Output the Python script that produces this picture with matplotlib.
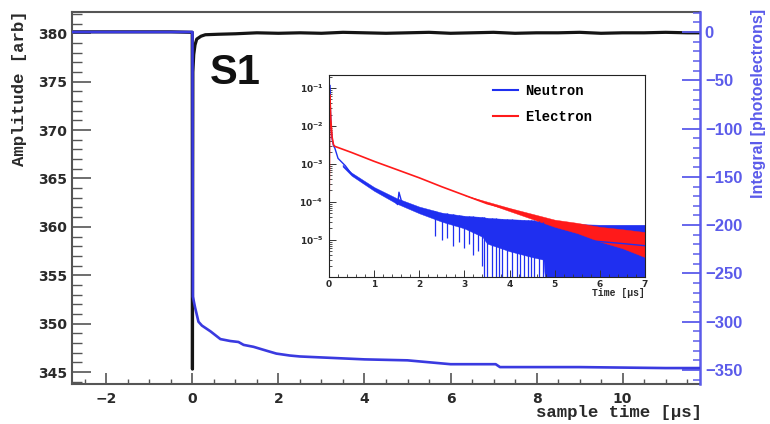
import matplotlib
matplotlib.use('Agg')
import matplotlib.pyplot as plt
import numpy as np
from matplotlib.ticker import MultipleLocator, NullFormatter, FuncFormatter, LogLocator
from matplotlib.font_manager import FontProperties
from matplotlib.lines import Line2D

plt.rcParams['font.weight'] = 'bold'

# ---------------- main panel data ----------------
amp_time = [-2.8, -1.5, -0.5, -0.005, 0.0, 0.01, 0.03, 0.06, 0.1, 0.2, 0.3, 0.6, 1.0, 1.5,
            2.0, 2.5, 3.0, 3.5, 4.0, 4.5, 5.0, 5.5, 6.0, 6.5, 7.0, 7.5, 8.0, 8.5, 9.0, 9.5,
            10.0, 10.5, 11.0, 11.5, 11.8]
amp_val = [380.15, 380.15, 380.15, 380.1, 345.3, 376.0, 377.8, 378.8, 379.4, 379.7, 379.85,
           379.9, 379.95, 380.05, 380.0, 380.05, 380.0, 380.1, 380.05, 380.0, 380.05, 380.1,
           380.0, 380.05, 380.1, 380.0, 380.05, 380.05, 380.1, 380.0, 380.05, 380.05, 380.1,
           380.05, 380.05]

int_time = [-2.8, -0.005, 0.0, 0.01, 0.06, 0.14, 0.22, 0.42, 0.65, 0.88, 1.07, 1.19, 1.42,
            1.57, 1.72, 1.95, 2.26, 2.5, 3.0, 4.0, 5.0, 6.0, 7.05, 7.15, 9.0, 11.0, 11.8]
int_pe = [0, 0, 0, -274, -285, -300, -304, -310, -318, -320, -321, -324, -326, -328, -330,
          -333, -335, -336, -337, -339, -340, -344, -344, -347, -347, -348, -348]

x_ticks_main = [-2, 0, 2, 4, 6, 8, 10]
amp_ticks = [345, 350, 355, 360, 365, 370, 375, 380]
pe_ticks = [0, -50, -100, -150, -200, -250, -300, -350]

# ---------------- inset data ----------------
neutron_time = [0.0, 0.015, 0.03, 0.05, 0.07, 0.1, 0.13, 0.2, 0.36, 0.5, 0.75, 1.0, 1.2,
                1.39, 1.47, 1.52, 1.55, 1.6, 1.65, 2.0, 2.5, 3.0, 3.5, 4.0, 4.5, 5.0, 5.5,
                6.0, 6.5, 7.0]
neutron_val = [5e-5, 1.2e-1, 3e-2, 8e-3, 4.5e-3, 3.0e-3, 2.6e-3, 1.4e-3, 9e-4, 5.4e-4,
               3.3e-4, 2.2e-4, 1.6e-4, 1.25e-4, 1.0e-4, 8.5e-5, 1.8e-4, 1.1e-4, 8.5e-5,
               6e-5, 4e-5, 3e-5, 2.2e-5, 1.7e-5, 1.4e-5, 1.2e-5, 1.0e-5, 9e-6, 8e-6, 7e-6]

nband_time = [0.3, 0.5, 1.0, 1.5, 2.0, 2.5, 3.0, 3.4, 3.5, 4.0, 4.5, 4.75, 4.8, 5.0, 5.5,
              6.0, 6.5, 7.0]
nband_hi = [9.5e-4, 5.9e-4, 2.45e-4, 1.25e-4, 7.5e-5, 5.2e-5, 4.3e-5, 4e-5, 3.8e-5, 3.5e-5,
            3.3e-5, 3e-5, 3e-5, 2.8e-5, 2.6e-5, 2.5e-5, 2.5e-5, 2.5e-5]
nband_lo = [8.5e-4, 4.9e-4, 1.95e-4, 9e-5, 5e-5, 3e-5, 2e-5, 1.2e-5, 8e-6, 5e-6,
            3.5e-6, 3e-6, 5e-7, 5e-7, 5e-7, 5e-7, 5e-7, 5e-7]

dip_time = [2.35, 2.5, 2.62, 2.75, 2.88, 3.0, 3.1, 3.2, 3.3, 3.38, 3.43, 3.5, 3.61, 3.69,
            3.76, 3.84, 3.94, 4.06, 4.17, 4.23, 4.33, 4.4, 4.47, 4.54, 4.65, 4.73]
dip_floor = [1.3e-5, 1.0e-5, 1.1e-5, 7e-6, 9e-6, 6e-6, 8e-6, 4e-6, 5e-6, 2e-6, 5e-7, 5e-7,
             5e-7, 5e-7, 5e-7, 5e-7, 5e-7, 5e-7, 5e-7, 5e-7, 5e-7, 5e-7, 5e-7, 5e-7, 5e-7,
             5e-7]

electron_time = [0.0, 0.02, 0.04, 0.07, 0.1, 0.13, 0.5, 1.0, 1.5, 2.0, 2.5, 3.0, 3.5, 4.0,
                 4.5, 5.0, 5.5, 6.0, 6.5, 7.0]
electron_val = [3e-5, 6.6e-2, 1.5e-2, 5e-3, 3.2e-3, 2.9e-3, 2e-3, 1.17e-3, 7.1e-4, 4.3e-4,
                2.5e-4, 1.5e-4, 9e-5, 6.3e-5, 4.2e-5, 2.8e-5, 2.1e-5, 1.5e-5, 1.1e-5, 8e-6]

eband_time = [3.0, 4.0, 5.0, 5.5, 6.0, 6.5, 7.0]
eband_hi = [1.5e-4, 6.9e-5, 3.4e-5, 2.8e-5, 2.2e-5, 1.9e-5, 1.6e-5]
eband_lo = [1.5e-4, 5.7e-5, 2.2e-5, 1.5e-5, 9e-6, 6e-6, 3.5e-6]

inset_xticks = [0, 1, 2, 3, 4, 5, 6, 7]

# ---------------- styles ----------------
W, H = 770, 424
GRAY = '#555555'
TXT = '#2a2a2a'
BLUE_MAIN = '#3a3ae0'
BLUE_AX = '#5b5bea'
BLUE_IN = '#1f2ff0'
RED_IN = '#ff1a1a'

fig = plt.figure(figsize=(W / 100, H / 100), dpi=100)
ax = fig.add_axes([72 / W, 1 - 384 / H, (700 - 72) / W, (384 - 12) / H])
ax.set_xlim(-2.8, 11.8)
ax.set_ylim(343.76, 382.2)
ax2 = ax.twinx()
ax2.set_ylim(-364.5, 20.7)

ax.plot(amp_time, amp_val, color='#151515', lw=2.3, zorder=2)
ax2.plot(int_time, int_pe, color=BLUE_MAIN, lw=1.9, zorder=3)

for s in ['left', 'bottom', 'top']:
    ax.spines[s].set_color(GRAY)
    ax.spines[s].set_linewidth(1.5)
ax.spines['right'].set_visible(False)
for s in ['left', 'bottom', 'top']:
    ax2.spines[s].set_visible(False)
ax2.spines['right'].set_color(BLUE_AX)
ax2.spines['right'].set_linewidth(1.8)

ax.set_xticks(x_ticks_main)
ax.xaxis.set_minor_locator(MultipleLocator(0.5))
ax.set_yticks(amp_ticks)
ax.yaxis.set_minor_locator(MultipleLocator(1))
ax.tick_params(axis='x', which='major', direction='in', length=8, width=1.2, color=GRAY,
               labelcolor=TXT, labelsize=10, pad=6, top=False, labelfontfamily='DejaVu Sans')
ax.tick_params(axis='x', which='minor', direction='in', length=3.5, width=1.0, color=GRAY, top=False)
ax.tick_params(axis='y', which='major', direction='in', length=14, width=1.2, color=GRAY,
               labelcolor=TXT, labelsize=10, pad=3.5, right=False, labelfontfamily='DejaVu Sans')
ax.tick_params(axis='y', which='minor', direction='in', length=7.5, width=1.0, color=GRAY, right=False)

ax2.set_yticks(pe_ticks)
ax2.yaxis.set_minor_locator(MultipleLocator(10))
ax2.tick_params(axis='y', which='major', direction='in', length=13, width=1.3, color=BLUE_AX,
                labelcolor=BLUE_AX, labelsize=12, pad=3.5, labelfontfamily='Liberation Sans')
ax2.tick_params(axis='y', which='minor', direction='in', length=5, width=1.1, color=BLUE_AX)

fig.text(20 / W, 1 - 10 / H, 'Amplitude [arb]', rotation=90, ha='center', va='top',
         family='Liberation Mono', weight='bold', size=12.5, color=TXT)
fig.text(702 / W, 1 - 413 / H, 'sample time [µs]', ha='right', va='center',
         family='Liberation Mono', weight='bold', size=12.5, color=TXT)
fig.text(759 / W, 1 - 9 / H, 'Integral [photoelectrons]', rotation=90, ha='center', va='top',
         family='Liberation Sans', weight='bold', size=11.5, color=BLUE_AX)
fig.text(210 / W, 1 - 84 / H, 'S1', ha='left', va='baseline', family='Liberation Sans',
         weight='bold', size=30, color='#111111')

# ---------------- inset ----------------
axi = fig.add_axes([329 / W, 1 - 277 / H, (645 - 329) / W, (277 - 75) / H])
axi.set_zorder(5)
axi.set_facecolor('white')
axi.set_yscale('log')
axi.set_xlim(0, 7)
axi.set_ylim(1.05e-6, 0.22)

axi.plot(neutron_time, neutron_val, color=BLUE_IN, lw=1.0)
axi.fill_between(nband_time, nband_lo, nband_hi, color=BLUE_IN, lw=0.3)
dip_top = np.exp(np.interp(dip_time, nband_time, np.log(nband_hi)))
axi.vlines(dip_time, dip_floor, dip_top, color=BLUE_IN, lw=0.9)
axi.plot(electron_time, electron_val, color=RED_IN, lw=1.2)
axi.fill_between(eband_time, eband_lo, eband_hi, color=RED_IN, lw=0.3)

for s in axi.spines.values():
    s.set_color('#222222')
    s.set_linewidth(0.8)
axi.set_xticks(inset_xticks)
axi.xaxis.set_minor_locator(MultipleLocator(0.2))
axi.yaxis.set_major_locator(LogLocator(base=10, numticks=20))
axi.yaxis.set_minor_locator(LogLocator(base=10, subs=np.arange(2, 10), numticks=20))
axi.yaxis.set_minor_formatter(NullFormatter())
axi.yaxis.set_major_formatter(FuncFormatter(
    lambda v, p: r'$\mathbf{10^{%d}}$' % int(round(np.log10(v))) if -5.5 < np.log10(v) < -0.5 else ''))
axi.tick_params(axis='both', which='major', direction='in', length=5, width=0.7,
                labelsize=6.5, top=False, right=False, color='#333333', labelcolor=TXT)
axi.tick_params(axis='both', which='minor', direction='in', length=2.5, width=0.6,
                top=False, right=False, color='#333333')
axi.tick_params(axis='x', which='major', pad=2)
axi.tick_params(axis='y', which='major', pad=4)

fig.text(645 / W, 1 - 293 / H, 'Time [µs]', ha='right', va='center',
         family='Liberation Mono', weight='bold', size=7, color=TXT)
fig.text(469 / W, 1 - 167 / H, 'Averaged Wave forms', ha='left', va='center',
         family='Liberation Sans', weight='bold', size=9.8, color='#111111')

handles = [Line2D([], [], color=BLUE_IN, lw=1.5), Line2D([], [], color=RED_IN, lw=1.5)]
axi.legend(handles, ['Neutron', 'Electron'], loc='upper left',
           bbox_to_anchor=((493 - 329) / 316, (277 - 84) / 202), frameon=False,
           prop=FontProperties(family='Liberation Mono', weight='bold', size=10),
           handlelength=1.8, handletextpad=0.5, borderpad=0, borderaxespad=0,
           labelspacing=0.85)

fig.savefig('out.png', dpi=100)
